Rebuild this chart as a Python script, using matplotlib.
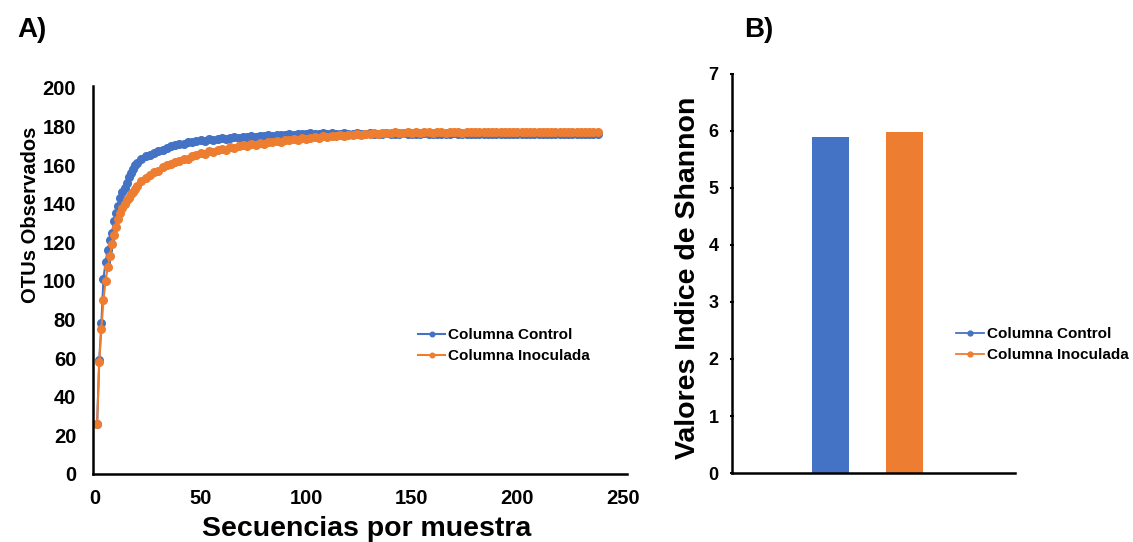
import matplotlib
matplotlib.use("Agg")
import matplotlib.pyplot as plt
from matplotlib.lines import Line2D

plt.rcParams['font.family'] = ['Liberation Sans', 'DejaVu Sans']
plt.rcParams['font.weight'] = 'bold'

BLUE = '#4472C4'
ORANGE = '#ED7D31'

# --- A) rarefaction curves ---
seq_early = [1, 2, 3, 4, 5, 6, 7, 8, 9, 10, 11, 12, 13, 14, 15, 16, 17, 18, 19, 20]
seq_late = list(range(22, 239, 2))
secuencias = seq_early + seq_late

otus_control = [
    26, 59, 78, 101, 110, 116, 121, 125, 131, 135, 139, 143, 146, 148, 151, 154, 156, 158, 160, 161,
    163, 164.5, 165.5, 166.5, 167.5, 168, 169, 170, 170.5, 171,
    171, 172, 172, 172.5, 173, 172.5, 173.5, 173, 173.5, 174,
    173.5, 174, 174.5, 174, 174.5, 174.5, 175, 174.5, 175, 175,
    175.5, 175, 175.5, 175.5, 175.5, 176, 175.5, 176, 176, 176,
    176.5, 176, 176, 176.5, 176, 176.5, 176, 176, 176.5, 176,
    176, 176.5, 176, 176, 176.5, 176, 176, 176, 176.5, 176,
    176, 176, 176.5, 176, 176, 176, 176, 176.5, 176, 176,
    176, 176, 176, 176, 176.5, 176, 176, 176, 176, 176,
    176, 176, 176, 176, 176, 176, 176, 176, 176, 176,
    176, 176, 176, 176, 176, 176, 176, 176, 176, 176,
    176, 176, 176, 176, 176, 176, 176, 176, 176,
]
otus_inoculada = [
    26, 58, 75, 90, 100, 107, 113, 119, 124, 128, 132, 135, 138, 140, 142, 143, 145, 146, 147.5, 149,
    152, 153.5, 155, 156.5, 157, 159, 160, 160.5, 161.5, 162,
    163, 163, 164.5, 165.5, 166.5, 166, 167.5, 167, 168, 168.5,
    168, 169.5, 169, 170, 170.5, 170, 171, 170.5, 171.5, 171,
    172, 172, 172.5, 172, 173, 173, 173.5, 173, 174, 173.5,
    174, 174.5, 174, 175, 174.5, 175, 175, 175.5, 175, 175.5,
    175.5, 176, 175.5, 176, 176, 176.5, 176, 176.5, 176.5, 176.5,
    177, 176.5, 176.5, 177, 176.5, 177, 176.5, 177, 177, 176.5,
    177, 177, 176.5, 177, 177, 177, 176.5, 177, 177, 177,
    177, 177, 177, 177, 177, 177, 177, 177, 177, 177,
    177, 177, 177, 177, 177, 177, 177, 177, 177, 177,
    177, 177, 177, 177, 177, 177, 177, 177, 177,
]

# --- B) Shannon index ---
grupos = ['Columna Control', 'Columna Inoculada']
shannon = [5.9, 5.98]

fig = plt.figure(figsize=(11.33, 5.42), dpi=100)

axA = fig.add_axes([0.082, 0.1255, 0.4716, 0.7158])
axA.plot(secuencias, otus_control, color=BLUE, marker='o', markersize=5.5,
         linewidth=1.5, label='Columna Control')
axA.plot(secuencias, otus_inoculada, color=ORANGE, marker='o', markersize=5.5,
         linewidth=1.5, label='Columna Inoculada')
axA.set_xlim(-1, 252)
axA.set_ylim(0, 201)
axA.set_xticks([0, 50, 100, 150, 200, 250])
axA.set_yticks(range(0, 201, 20))
axA.tick_params(axis='y', labelsize=14.5, length=0, pad=12)
axA.tick_params(axis='x', labelsize=14.5, length=0, pad=11)
for s in ['top', 'right']:
    axA.spines[s].set_visible(False)
for s in ['left', 'bottom']:
    axA.spines[s].set_linewidth(1.8)
axA.legend(loc='upper left', bbox_to_anchor=(0.3566, 0.42), bbox_transform=fig.transFigure,
           frameon=False, fontsize=11, handlelength=1.8, handletextpad=0.2,
           labelspacing=0.45, markerscale=0.6)

fig.text(0.324, 0.024, 'Secuencias por muestra', fontsize=20.5, ha='center', va='center')
fig.text(0.027, 0.603, 'OTUs Observados', fontsize=14.5, rotation=90, ha='center', va='center')
fig.text(0.015, 0.945, 'A)', fontsize=20, ha='left', va='center')

axB = fig.add_axes([0.646, 0.1273, 0.2498, 0.7362])
axB.bar([0, 1], shannon, width=0.49, color=[BLUE, ORANGE])
axB.set_xlim(-1.33, 2.49)
axB.set_ylim(0, 7)
axB.set_xticks([])
axB.set_yticks(range(0, 8))
axB.tick_params(axis='y', labelsize=13, length=3, width=1.5, direction='inout', pad=8)
for s in ['top', 'right']:
    axB.spines[s].set_visible(False)
for s in ['left', 'bottom']:
    axB.spines[s].set_linewidth(1.8)

handles = [Line2D([], [], color=BLUE, marker='o', markersize=3.5, linewidth=1.3),
           Line2D([], [], color=ORANGE, marker='o', markersize=3.5, linewidth=1.3)]
axB.legend(handles, grupos, loc='upper left', bbox_to_anchor=(0.832, 0.422),
           bbox_transform=fig.transFigure, frameon=False, fontsize=11,
           handlelength=1.8, handletextpad=0.2, labelspacing=0.45)

fig.text(0.607, 0.487, 'Valores Indice de Shannon', fontsize=20.5, rotation=90,
         ha='center', va='center')
fig.text(0.657, 0.945, 'B)', fontsize=20, ha='left', va='center')

fig.savefig('out.png', dpi=100)
